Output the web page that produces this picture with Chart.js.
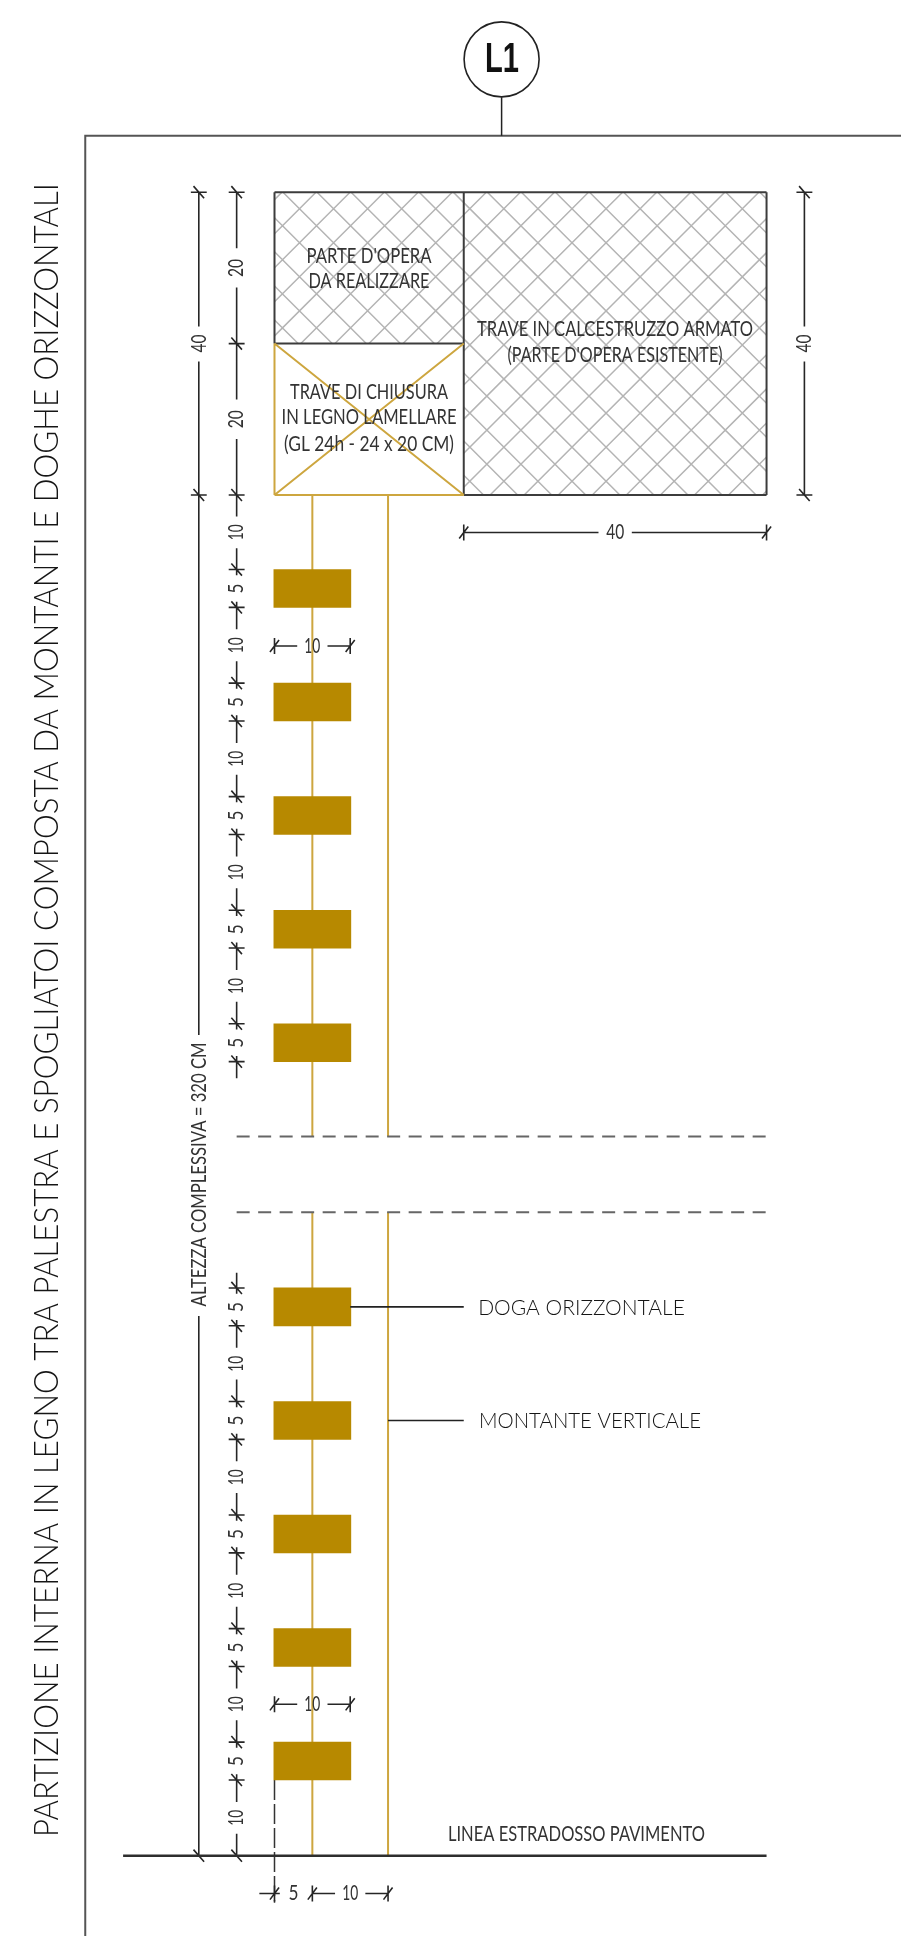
<!DOCTYPE html>
<html><head><meta charset="utf-8">
<style>html,body{margin:0;padding:0;background:#fff}canvas{display:block}</style>
<script src="https://cdn.jsdelivr.net/npm/chart.js@4"></script>
</head><body><canvas id="c" width="901" height="1936" style="width:901px;height:1936px"></canvas>
<script>
// All geometry values are centimetres of the drawing (x from the plank's left edge, y from the floor).
const plankCentre = 5;
const plankBottoms = [10, 25, 40, 55, 70, 104.9, 119.9, 134.9, 149.9, 164.9];
const plankHeight = 5;
const uprights = [5, 15];
const breakLower = 85, breakUpper = 95;
const floorY = 0;
const beamBottom = 179.75, beamMiddle = 199.75, beamTop = 219.75;
const beamLeft = 0, beamSplit = 25, beamRight = 65;
const upperTicks = [219.75, 199.75, 179.75, 169.9, 164.9, 154.9, 149.9, 139.9, 134.9, 124.9, 119.9, 109.9, 104.9];
const upperLabels = ['20', '20', '10', '5', '10', '5', '10', '5', '10', '5', '10', '5'];
const lowerTicks = [75, 70, 60, 55, 45, 40, 30, 25, 15, 10, 0];
const lowerLabels = ['5', '10', '5', '10', '5', '10', '5', '10', '5', '10'];
const overallTicks = [219.75, 179.75, 0];
const titleText = 'PARTIZIONE INTERNA IN LEGNO TRA PALESTRA E SPOGLIATOI COMPOSTA DA MONTANTI E DOGHE ORIZZONTALI';
const overallText = 'ALTEZZA COMPLESSIVA = 320 CM';

const PX = 7.57, ORIGIN_X = 274.5, ORIGIN_Y = 1855.7;
const GAP = {x: null, y: null};
function seg(list, x1, y1, x2, y2) { list.push({x: x1, y: y1}, {x: x2, y: y2}, GAP); }

// hatch
const hatch = [];
[[beamLeft, beamMiddle, beamSplit, beamTop], [beamSplit, beamBottom, beamRight, beamTop]].forEach(([x0, y0, x1, y1]) => {
  for (let k = -30; k < 60; k++) {
    const cu = -164.77 + 4.5 * k, a = Math.max(x0, y0 + cu), b = Math.min(x1, y1 + cu);
    if (a < b) seg(hatch, a, a - cu, b, b - cu);
    const cd = 225.37 + 4.5 * k, e = Math.max(x0, cd - y1), f = Math.min(x1, cd - y0);
    if (e < f) seg(hatch, e, cd - e, f, cd - f);
  }
});

// dimensions
const dims = [], labels = [];
const TW = {'5': 10, '10': 16, '20': 18, '40': 18};
function vTick(x, y) { seg(dims, x - 1.05, y, x + 1.05, y); seg(dims, x - 0.7, y + 0.8, x + 0.7, y - 0.8); }
function hTick(x, y) { seg(dims, x, y - 1.05, x, y + 1.05); seg(dims, x - 0.6, y - 0.8, x + 0.6, y + 0.8); }
function vChain(x, ticks, texts, endOver) {
  ticks.forEach(t => vTick(x, t));
  for (let i = 0; i < texts.length; i++) {
    const a = ticks[i], b = ticks[i + 1], m = (a + b) / 2, t = texts[i];
    const g = t === '5' ? 1.75 : t === '10' ? 2.1 : 2.6;
    seg(dims, x, a + 0.7 * (i === 0 ? 0 : 1), x, m + g);
    seg(dims, x, m - g, x, b - (i === texts.length - 1 ? endOver : 0.7));
    labels.push({t, x, y: m, rot: 1, size: 21, w: TW[t]});
  }
}
vChain(-5, upperTicks, upperLabels, 2.2);
vChain(-5, lowerTicks, lowerLabels, 0);
dims.push({x: -5, y: 77}, {x: -5, y: 75}, GAP);

// overall column
overallTicks.forEach(t => vTick(-10, t));
seg(dims, -10, 219.75, -10, 202); seg(dims, -10, 197.4, -10, 108.4); seg(dims, -10, 71.3, -10, 0);
labels.push({t: '40', x: -10, y: 199.75, rot: 1, size: 21, w: 18});
labels.push({t: overallText, x: -10, y: 90, rot: 1, size: 21, w: 264});
// right column
[219.75, 179.75].forEach(t => vTick(70, t));
seg(dims, 70, 219.75, 70, 202); seg(dims, 70, 197.4, 70, 179.75);
labels.push({t: '40', x: 70, y: 199.75, rot: 1, size: 21, w: 18});
// horizontal dims
[25, 65].forEach(x => hTick(x, 174.8));
seg(dims, 25, 174.8, 42.8, 174.8); seg(dims, 47.2, 174.8, 65, 174.8);
labels.push({t: '40', x: 45, y: 174.8, rot: 0, size: 21, w: 18});
[159.8, 20].forEach(y => {
  hTick(0, y); hTick(10, y);
  seg(dims, 0, y, 3, y); seg(dims, 7, y, 10, y);
  labels.push({t: '10', x: 5, y, rot: 0, size: 21, w: 16});
});
[0, 5, 15].forEach(x => hTick(x, -5));
seg(dims, -2, -5, 0.7, -5); seg(dims, 5, -5, 8, -5); seg(dims, 12, -5, 15, -5);
labels.push({t: '5', x: 2.5, y: -5, rot: 0, size: 21, w: 10});
labels.push({t: '10', x: 10, y: -5, rot: 0, size: 21, w: 16});

// text annotations
function at(px, py) { return {x: (px - ORIGIN_X) / PX, y: (ORIGIN_Y - py) / PX}; }
[["PARTE D'OPERA", 369, 256.5, 125], ['DA REALIZZARE', 369, 281, 121],
 ['TRAVE DI CHIUSURA', 369, 392, 158], ['IN LEGNO LAMELLARE', 369, 417, 175], ['(GL 24h - 24 x 20 CM)', 369, 444, 170],
 ['TRAVE IN CALCESTRUZZO ARMATO', 615, 329, 276], ["(PARTE D'OPERA ESISTENTE)", 615, 355.5, 215]
].forEach(([t, px, py, w]) => labels.push({t, ...at(px, py), rot: 0, size: 21, w}));
labels.push({t: 'LINEA ESTRADOSSO PAVIMENTO', ...at(576.5, 1834), rot: 0, size: 21, w: 257});
labels.push({t: 'DOGA ORIZZONTALE', ...at(581.5, 1308), rot: 0, size: 21, w: 207, light: true});
labels.push({t: 'MONTANTE VERTICALE', ...at(590, 1421), rot: 0, size: 21, w: 222, light: true});
labels.push({t: titleText, ...at(48, 1010), rot: 1, size: 32.5, w: 1654, light: true});
labels.push({t: 'L1', ...at(502, 60.5), rot: 0, size: 42, w: 34, bold: true});

// structure lines
const frame = [{x: -25, y: -11}, {x: -25, y: 227.2}, {x: 83, y: 227.2}];
const stem = [{x: 30, y: 227.2}, {x: 30, y: 232.3}];
const circle = [{x: 30, y: 237.3}];
const beamOutline = [];
seg(beamOutline, beamLeft, beamMiddle, beamLeft, beamTop);
seg(beamOutline, beamLeft, beamTop, beamRight, beamTop);
seg(beamOutline, beamRight, beamTop, beamRight, beamBottom);
seg(beamOutline, beamRight, beamBottom, beamSplit, beamBottom);
seg(beamOutline, beamSplit, beamBottom, beamSplit, beamTop);
seg(beamOutline, beamLeft, beamMiddle, beamSplit, beamMiddle);
const woodBeam = [];
seg(woodBeam, beamLeft, beamBottom, beamLeft, beamMiddle);
seg(woodBeam, beamLeft, beamBottom, beamSplit, beamBottom);
seg(woodBeam, beamLeft, beamBottom, beamSplit, beamMiddle);
seg(woodBeam, beamLeft, beamMiddle, beamSplit, beamBottom);
const uprightLines = [];
uprights.forEach(x => { seg(uprightLines, x, beamBottom, x, breakUpper); seg(uprightLines, x, breakLower, x, floorY); });
const breaks = [];
seg(breaks, -5, breakUpper, beamRight, breakUpper); seg(breaks, -5, breakLower, beamRight, breakLower);
const leaders = [];
seg(leaders, 10, 72.5, 25, 72.5); seg(leaders, 15, 57.5, 25, 57.5);
const floorLine = [{x: -20, y: floorY}, {x: beamRight, y: floorY}];
const setOut = [{x: 0, y: 10}, {x: 0, y: -6.2}];

function line(data, color, width, extra) {
  return Object.assign({type: 'scatter', data, showLine: true, borderColor: color, backgroundColor: color,
    borderWidth: width, pointRadius: 0, spanGaps: false, clip: false}, extra || {});
}
const layers = [
  line(hatch, '#b4b4b4', 1.5),
  line(uprightLines, '#cda63f', 2),
  line(breaks, '#666666', 2, {borderDash: [13, 8.5]}),
  line(setOut, '#333333', 1.5, {borderDash: [20, 4]}),
  line(frame, '#555555', 2),
  line(stem, '#222222', 1.5),
  line(beamOutline, '#3c3c3c', 2),
  line(woodBeam, '#cda63f', 2),
  line(dims, '#262626', 1.6),
  {type: 'bar', data: plankBottoms.map(b => ({x: plankCentre, y: [b, b + plankHeight]})),
   backgroundColor: '#b78900', borderWidth: 0, barThickness: 77},
  line(leaders, '#222222', 1.6),
  line(floorLine, '#2e2e2e', 2.5),
  line(circle, '#222222', 1.5, {showLine: false, pointRadius: 37.5, pointBackgroundColor: '#fff', pointBorderColor: '#222', pointBorderWidth: 1.6})
];
layers.forEach((d, i) => { d.order = layers.length - i; });

new Chart(document.getElementById('c'), {
  type: 'bar',
  data: {datasets: layers},
  options: {
    responsive: false, animation: false, devicePixelRatio: 1,
    layout: {padding: 0, autoPadding: false},
    plugins: {legend: {display: false}, tooltip: {enabled: false}, title: {display: false}},
    scales: {
      x: {type: 'linear', display: false, min: -ORIGIN_X / PX, max: (901 - ORIGIN_X) / PX, offset: false},
      y: {type: 'linear', display: false, min: (ORIGIN_Y - 1936) / PX, max: ORIGIN_Y / PX, beginAtZero: false}
    }
  },
  plugins: [{
    id: 'drawingText',
    afterDatasetsDraw(chart) {
      const {ctx, scales: {x, y}} = chart;
      labels.forEach(l => {
        ctx.save();
        ctx.translate(x.getPixelForValue(l.x), y.getPixelForValue(l.y));
        if (l.rot) ctx.rotate(-Math.PI / 2);
        ctx.fillStyle = l.bold ? '#111' : l.light ? '#151515' : '#333';
        ctx.font = l.bold ? `bold ${l.size}px "Liberation Sans Narrow", "Liberation Sans"` : `${l.light ? 300 : 400} ${l.size}px Lato`;
        ctx.textAlign = 'center';
        ctx.textBaseline = 'middle';
        ctx.fillText(l.t, 0, 0, l.w);
        ctx.restore();
      });
    }
  }]
});
</script></body></html>
